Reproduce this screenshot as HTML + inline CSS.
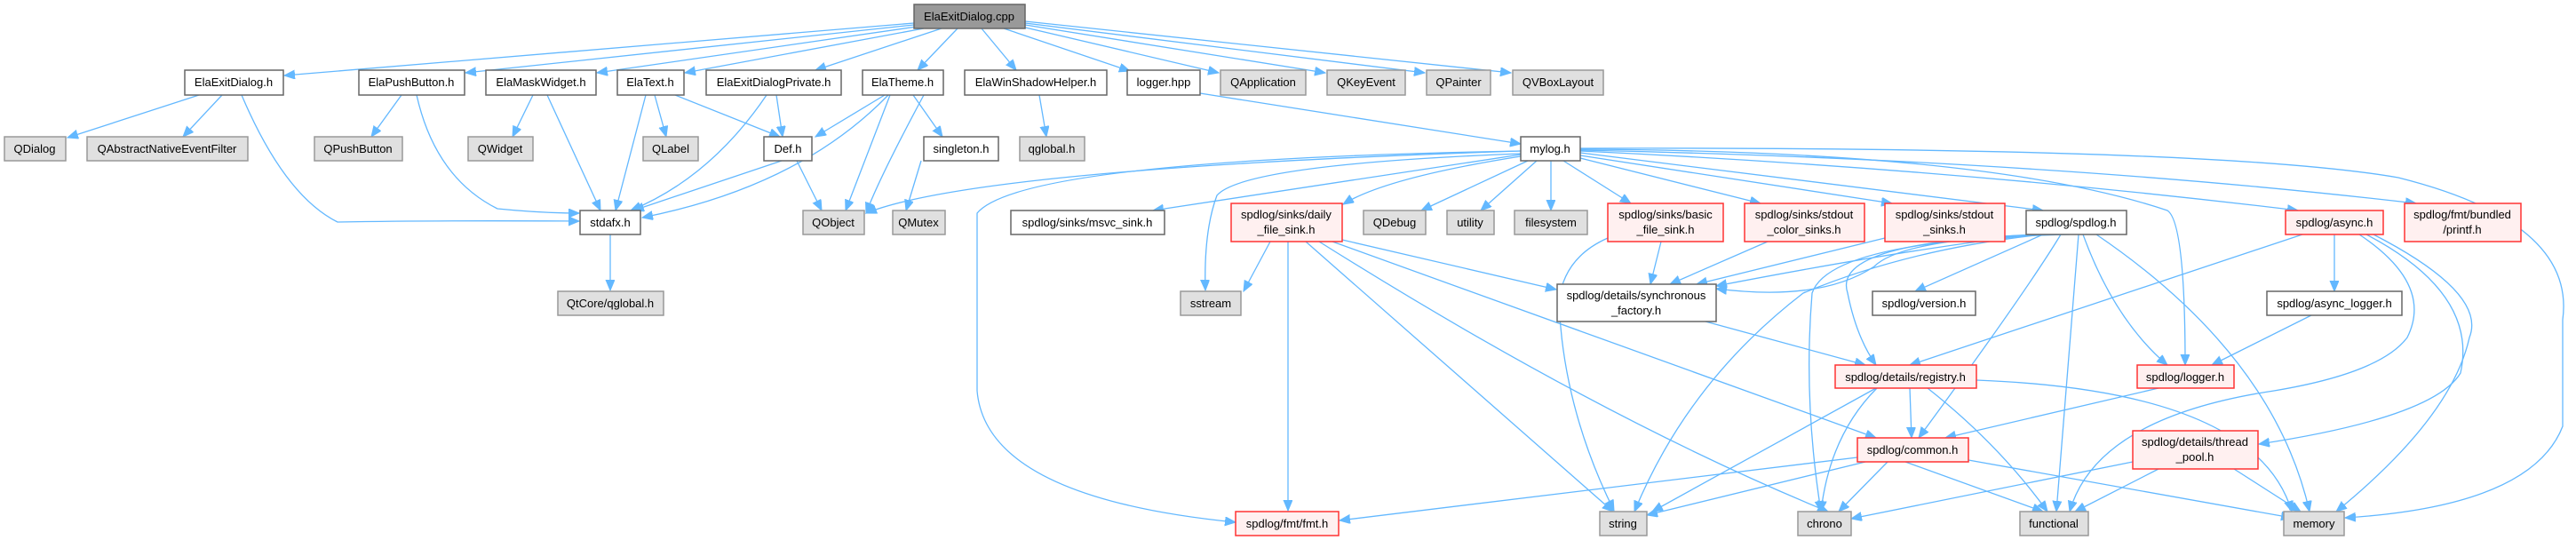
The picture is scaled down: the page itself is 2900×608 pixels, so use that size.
<!DOCTYPE html>
<html><head><meta charset="utf-8"><style>
html,body{margin:0;padding:0;background:#fff;}
svg{display:block;}
text{font-family:"Liberation Sans",Arial,sans-serif;font-size:13px;fill:#000;text-anchor:middle;}
.w{fill:#fff;stroke:#666;stroke-width:1.5}
.g{fill:#e0e0e0;stroke:#999;stroke-width:1.5}
.r{fill:#fff0f0;stroke:#f33;stroke-width:1.5}
.c{fill:#999;stroke:#666;stroke-width:1.5}
path{fill:none;stroke:#63b8ff;stroke-width:1.3}
</style></head><body>
<svg width="2900" height="608" viewBox="0 0 2900 608" xmlns="http://www.w3.org/2000/svg">
<defs><marker id="a" markerUnits="userSpaceOnUse" markerWidth="14" markerHeight="12" refX="12" refY="5" orient="auto"><path d="M0,0 L12,5 L0,10 Z" style="fill:#63b8ff;stroke:#63b8ff;stroke-width:1"/></marker></defs>
<g marker-end="url(#a)">
<path d="M1029,26 L320,85"/>
<path d="M1029,28 L524,82"/>
<path d="M1032,30 L672,82"/>
<path d="M1040,32 L771,82"/>
<path d="M1060,32 L918,79"/>
<path d="M1078,32 L1033,79"/>
<path d="M1105,32 L1144,79"/>
<path d="M1130,32 L1272,80"/>
<path d="M1150,30 L1372,82"/>
<path d="M1154,28 L1492,82"/>
<path d="M1154,26 L1604,82"/>
<path d="M1154,24 L1701,82"/>
<path d="M224,107 L76,155"/>
<path d="M250,107 L206,154"/>
<path d="M272,107 Q320,220 380,250 Q500,248 652,249"/>
<path d="M452,107 L418,154"/>
<path d="M469,107 Q490,200 560,235 Q610,240 652,240"/>
<path d="M600,107 L577,154"/>
<path d="M616,107 L676,237"/>
<path d="M727,107 L693,237"/>
<path d="M737,107 L750,154"/>
<path d="M760,107 L878,154"/>
<path d="M863,107 Q800,200 710,237"/>
<path d="M874,107 L881,154"/>
<path d="M996,107 L918,154"/>
<path d="M1000,107 Q900,210 723,245"/>
<path d="M1002,107 L952,237"/>
<path d="M1028,107 L1061,154"/>
<path d="M1170,107 L1178,154"/>
<path d="M1351,105 L1712,162"/>
<path d="M880,181 L713,237"/>
<path d="M897,181 L925,237"/>
<path d="M1037,181 L1020,237"/>
<path d="M687,264 L687,327"/>
<path d="M1040,107 Q990,200 975,240"/>
<path d="M1712,170 Q1100,190 975,240"/>
<path d="M1712,174 L1298,237"/>
<path d="M1712,176 Q1560,200 1512,230"/>
<path d="M1720,181 L1600,237"/>
<path d="M1730,181 L1667,237"/>
<path d="M1746,181 L1746,237"/>
<path d="M1760,181 L1836,229"/>
<path d="M1779,178 L1982,229"/>
<path d="M1779,175 L2130,229"/>
<path d="M1779,172 L2300,237"/>
<path d="M1779,170 Q2200,190 2587,237"/>
<path d="M1779,169 Q2300,180 2720,229"/>
<path d="M1712,173 Q1400,185 1370,220 Q1355,260 1357,327"/>
<path d="M1712,170 Q1150,180 1100,240 L1100,440 Q1110,560 1391,588"/>
<path d="M1779,168 Q2240,170 2440,237 Q2460,250 2460,411"/>
<path d="M1779,167 Q2500,165 2700,200 Q2900,250 2885,360 L2885,480 Q2850,570 2640,583"/>
<path d="M1430,272 L1400,328"/>
<path d="M1450,272 L1450,575"/>
<path d="M1470,272 L1816,576"/>
<path d="M1485,272 Q1800,470 2058,576"/>
<path d="M1500,272 L2112,493"/>
<path d="M1511,270 L1752,326"/>
<path d="M1870,272 L1858,320"/>
<path d="M1810,268 Q1760,290 1755,340 Q1760,460 1817,575"/>
<path d="M1990,272 L1880,320"/>
<path d="M2122,268 L1910,320"/>
<path d="M2290,264 Q2150,280 1932,322"/>
<path d="M2295,264 Q2140,270 2110,300 Q2050,340 1932,325"/>
<path d="M2300,264 L2156,328"/>
<path d="M2310,264 Q2060,270 2080,330 Q2090,380 2112,411"/>
<path d="M2320,264 Q2280,330 2160,493"/>
<path d="M2330,264 Q2060,270 2040,330 Q2030,450 2050,576"/>
<path d="M2340,264 L2315,576"/>
<path d="M2345,264 Q2380,360 2440,411"/>
<path d="M2360,264 Q2560,400 2600,576"/>
<path d="M2300,264 Q2150,280 2030,330 Q1900,430 1840,576"/>
<path d="M2628,264 L2628,328"/>
<path d="M2592,264 L2150,411"/>
<path d="M2656,264 Q2740,320 2710,380 Q2680,420 2560,440 Q2360,470 2330,576"/>
<path d="M2664,264 Q2790,330 2770,420 Q2740,470 2543,500"/>
<path d="M2672,264 Q2800,330 2780,380 Q2760,470 2630,576"/>
<path d="M2602,355 L2490,411"/>
<path d="M1920,362 L2100,411"/>
<path d="M2150,437 L2152,493"/>
<path d="M2113,437 Q2060,490 2050,576"/>
<path d="M2170,437 Q2250,500 2305,576"/>
<path d="M2225,428 Q2540,440 2580,576"/>
<path d="M2112,437 L1860,576"/>
<path d="M2430,437 L2190,493"/>
<path d="M2091,515 L1508,586"/>
<path d="M2100,520 L1854,580"/>
<path d="M2125,520 L2070,576"/>
<path d="M2145,520 L2300,576"/>
<path d="M2216,518 L2580,583"/>
<path d="M2401,520 L2084,584"/>
<path d="M2430,528 L2336,576"/>
<path d="M2515,528 L2590,576"/>
</g>
<rect class="c" x="1029" y="5" width="125" height="27"/><text x="1091" y="23">ElaExitDialog.cpp</text>
<rect class="w" x="208" y="79" width="111" height="28"/><text x="263" y="97">ElaExitDialog.h</text>
<rect class="w" x="404" y="79" width="119" height="28"/><text x="463" y="97">ElaPushButton.h</text>
<rect class="w" x="547" y="79" width="124" height="28"/><text x="609" y="97">ElaMaskWidget.h</text>
<rect class="w" x="695" y="79" width="75" height="28"/><text x="732" y="97">ElaText.h</text>
<rect class="w" x="795" y="79" width="152" height="28"/><text x="871" y="97">ElaExitDialogPrivate.h</text>
<rect class="w" x="971" y="79" width="91" height="28"/><text x="1016" y="97">ElaTheme.h</text>
<rect class="w" x="1086" y="79" width="160" height="28"/><text x="1166" y="97">ElaWinShadowHelper.h</text>
<rect class="w" x="1269" y="79" width="82" height="28"/><text x="1310" y="97">logger.hpp</text>
<rect class="g" x="1374" y="79" width="96" height="28"/><text x="1422" y="97">QApplication</text>
<rect class="g" x="1494" y="79" width="88" height="28"/><text x="1538" y="97">QKeyEvent</text>
<rect class="g" x="1606" y="79" width="72" height="28"/><text x="1642" y="97">QPainter</text>
<rect class="g" x="1703" y="79" width="102" height="28"/><text x="1754" y="97">QVBoxLayout</text>
<rect class="g" x="5" y="154" width="69" height="27"/><text x="39" y="172">QDialog</text>
<rect class="g" x="98" y="154" width="181" height="27"/><text x="188" y="172">QAbstractNativeEventFilter</text>
<rect class="g" x="354" y="154" width="99" height="27"/><text x="403" y="172">QPushButton</text>
<rect class="g" x="527" y="154" width="73" height="27"/><text x="563" y="172">QWidget</text>
<rect class="g" x="724" y="154" width="62" height="27"/><text x="755" y="172">QLabel</text>
<rect class="w" x="860" y="154" width="54" height="27"/><text x="887" y="172">Def.h</text>
<rect class="w" x="1040" y="154" width="84" height="27"/><text x="1082" y="172">singleton.h</text>
<rect class="g" x="1148" y="154" width="73" height="27"/><text x="1184" y="172">qglobal.h</text>
<rect class="w" x="1712" y="154" width="67" height="27"/><text x="1745" y="172">mylog.h</text>
<rect class="w" x="653" y="237" width="68" height="27"/><text x="687" y="255">stdafx.h</text>
<rect class="g" x="904" y="237" width="69" height="27"/><text x="938" y="255">QObject</text>
<rect class="g" x="1005" y="237" width="59" height="27"/><text x="1034" y="255">QMutex</text>
<rect class="w" x="1138" y="237" width="173" height="27"/><text x="1224" y="255">spdlog/sinks/msvc_sink.h</text>
<rect class="r" x="1386" y="229" width="125" height="43"/><text x="1448" y="246">spdlog/sinks/daily</text><text x="1448" y="263">_file_sink.h</text>
<rect class="g" x="1535" y="237" width="70" height="27"/><text x="1570" y="255">QDebug</text>
<rect class="g" x="1629" y="237" width="53" height="27"/><text x="1655" y="255">utility</text>
<rect class="g" x="1705" y="237" width="82" height="27"/><text x="1746" y="255">filesystem</text>
<rect class="r" x="1810" y="229" width="130" height="43"/><text x="1875" y="246">spdlog/sinks/basic</text><text x="1875" y="263">_file_sink.h</text>
<rect class="r" x="1964" y="229" width="135" height="43"/><text x="2031" y="246">spdlog/sinks/stdout</text><text x="2031" y="263">_color_sinks.h</text>
<rect class="r" x="2122" y="229" width="135" height="43"/><text x="2189" y="246">spdlog/sinks/stdout</text><text x="2189" y="263">_sinks.h</text>
<rect class="w" x="2281" y="237" width="113" height="27"/><text x="2337" y="255">spdlog/spdlog.h</text>
<rect class="r" x="2573" y="237" width="110" height="27"/><text x="2628" y="255">spdlog/async.h</text>
<rect class="r" x="2707" y="229" width="131" height="43"/><text x="2772" y="246">spdlog/fmt/bundled</text><text x="2772" y="263">/printf.h</text>
<rect class="g" x="628" y="328" width="119" height="27"/><text x="687" y="346">QtCore/qglobal.h</text>
<rect class="g" x="1329" y="328" width="68" height="27"/><text x="1363" y="346">sstream</text>
<rect class="w" x="1753" y="320" width="179" height="42"/><text x="1842" y="337">spdlog/details/synchronous</text><text x="1842" y="354">_factory.h</text>
<rect class="w" x="2108" y="328" width="116" height="27"/><text x="2166" y="346">spdlog/version.h</text>
<rect class="w" x="2552" y="328" width="152" height="27"/><text x="2628" y="346">spdlog/async_logger.h</text>
<rect class="r" x="2066" y="411" width="159" height="26"/><text x="2145" y="429">spdlog/details/registry.h</text>
<rect class="r" x="2406" y="411" width="109" height="26"/><text x="2460" y="429">spdlog/logger.h</text>
<rect class="r" x="2091" y="493" width="125" height="27"/><text x="2153" y="511">spdlog/common.h</text>
<rect class="r" x="2401" y="485" width="141" height="43"/><text x="2471" y="502">spdlog/details/thread</text><text x="2471" y="519">_pool.h</text>
<rect class="r" x="1391" y="576" width="116" height="27"/><text x="1449" y="594">spdlog/fmt/fmt.h</text>
<rect class="g" x="1801" y="576" width="53" height="27"/><text x="1827" y="594">string</text>
<rect class="g" x="2024" y="576" width="60" height="27"/><text x="2054" y="594">chrono</text>
<rect class="g" x="2274" y="576" width="77" height="27"/><text x="2312" y="594">functional</text>
<rect class="g" x="2571" y="576" width="68" height="27"/><text x="2605" y="594">memory</text>
</svg>
</body></html>
